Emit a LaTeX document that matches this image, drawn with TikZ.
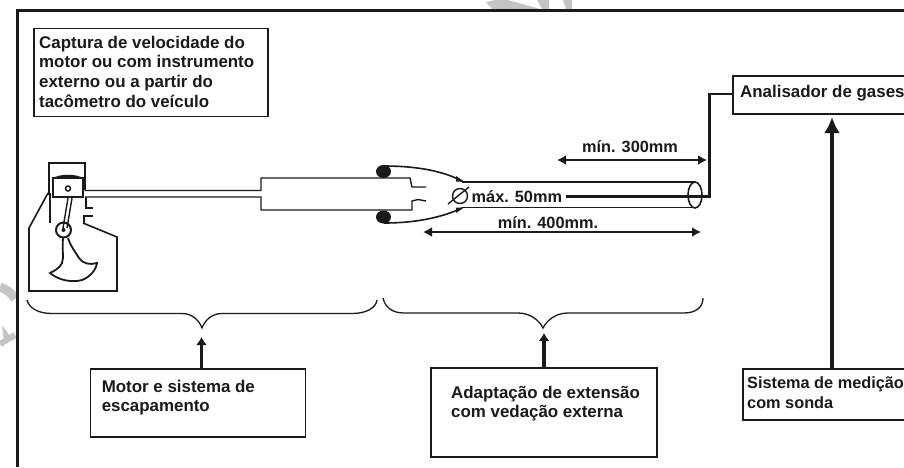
\documentclass[tikz,border=0pt]{standalone}
\usepackage{fontspec}
\setmainfont{Liberation Sans}
\usetikzlibrary{arrows.meta}
\definecolor{ink}{HTML}{1A1A1A}
\definecolor{wm}{HTML}{C4C4C4}
\tikzset{
  x=1pt,y=-1pt,
  lbl/.style={font=\fontsize{16.9}{19.8}\selectfont\bfseries,text=ink,align=left,anchor=north west,inner sep=0pt},
  lblsm/.style={font=\fontsize{16.3}{19.8}\selectfont\bfseries,text=ink,align=left,anchor=north west,inner sep=0pt},
  box/.style={draw=ink,line width=1.8pt,fill=white},
  thin/.style={draw=ink,line width=1.4pt},
  med/.style={draw=ink,line width=1.6pt},
  thick1/.style={draw=ink,line width=3pt},
  dim/.style={draw=ink,line width=2.2pt,{Latex[length=9pt,width=10pt]}-{Latex[length=9pt,width=10pt]}},
  up/.style={draw=ink,line width=3.6pt,-{Latex[length=8pt,width=11pt]}},
  upbig/.style={draw=ink,line width=4pt,-{Latex[length=16pt,width=16pt]}},
}
\begin{document}
\begin{tikzpicture}
\useasboundingbox (0,0) rectangle (904,467);
\fill[white] (0,0) rectangle (904,467);
% watermark remnants
\fill[wm] (486,2) -- (495,0) -- (508,0) -- (540,9) -- (492,9) -- cycle;
\fill[wm] (537,0) -- (549,0) -- (549,9) -- (542,9) -- cycle;
\fill[wm] (563,0) -- (572,0) -- (572,9) -- (566,9) -- cycle;
\draw[wm,line width=9pt] (0,287) .. controls (6,289) and (12,293) .. (15,299);
\draw[wm,line width=6pt] (0,344) -- (15,335);
\fill[wm] (2,325) -- (10,336) -- (4,341) -- cycle;
% frame
\draw[ink,line width=3pt] (904,10) -- (17,10) -- (17,467);
% boxes
\node[box,inner sep=0pt] (cap) at (151,72.5) {\rule{0pt}{88pt}\rule{234pt}{0pt}};
\node[lbl] at (39,35.6) {Captura de velocidade do\\motor ou com instrumento\\externo ou a partir do\\tacômetro do veículo};
\coordinate (anA) at (733,94);
\draw[box] (904,76) -- (733,76) -- (733,114) -- (904,114);
\node[lbl] at (740,84.6) {Analisador de gases};
\draw[box] (904,369) -- (743,369) -- (743,420) -- (904,420);
\node[lblsm] at (747,376.6) {Sistema de medição\\com sonda};
\node[box,inner sep=0pt] (mot) at (198,403) {\rule{0pt}{68pt}\rule{215pt}{0pt}};
\node[lbl] at (101.6,379.6) {Motor e sistema de\\escapamento};
\node[box,inner sep=0pt] (ada) at (544,412.5) {\rule{0pt}{89pt}\rule{226pt}{0pt}};
\node[lbl] at (451,385.6) {Adaptação de extensão\\com vedação externa};
% engine
\draw[thin] (49,195) -- (49,163) -- (85,163) -- (85,190);
\draw[thin] (50,223) -- (50,193);
\draw[ink,line width=2pt] (52.5,178) -- (83,178) -- (83,196.5) -- (52.5,196.5) -- cycle;
\fill[ink] (52,178.5) .. controls (60,173.5) and (76,173.5) .. (84,178.5) -- (85,190) -- (83,190) -- (83,178.5) -- cycle;
\draw[ink,line width=1.5pt] (68,188.5) circle (2.5);
\draw[thin] (68,198) -- (63,228);
\draw[thin] (72,198) -- (67,228);
\draw[ink,line width=2pt] (63.5,230) circle (7.5);
\fill[ink] (63.5,230) circle (2);
\draw[ink,line width=1.8pt] (63,238) .. controls (62,250) and (64,258) .. (62,263)
  .. controls (60,268) and (54,271) .. (50,273)
  .. controls (58,280) and (72,283) .. (82,280)
  .. controls (90,277) and (96,270) .. (97,263)
  .. controls (90,265) and (83,264) .. (79,258)
  .. controls (74,250) and (70,245) .. (68,238);
\draw[ink,line width=1.6pt] (48,193) -- (29,228) -- (29,291) -- (117,291) -- (117,237) -- (83,223);
\draw[thin] (86,197) -- (86,208) -- (93,208) (83,216) -- (93,216) (84,216) -- (84,223);
% exhaust
\draw[thin] (85,190.5) -- (261,190.5) -- (261,178) -- (410,178) -- (412,187) -- (426,187);
\draw[thin] (85,197) -- (261,197) -- (261,210) -- (412,210) -- (412,201) -- (418,199.5) -- (426,201);
% clamps
\fill[ink] (383.5,171.5) ellipse (7.5 and 6.5);
\fill[ink] (383.5,217) ellipse (7.5 and 6.5);
\draw[med] (384,166) .. controls (420,166) and (445,172) .. (462,181);
\draw[med] (384,223) .. controls (420,223) and (445,216) .. (462,208);
\fill[ink] (456,176) -- (464,181.5) -- (456,181.5) -- cycle;
\fill[ink] (456,213) -- (464,207.5) -- (456,207.5) -- cycle;
% probe tube
\draw[med] (462,182) -- (695,182);
\draw[med] (462,207.5) -- (695,207.5);
\draw[med] (695,195) ellipse (7 and 13);
% diameter mark
\draw[ink,line width=1.4pt] (460,196) circle (7.5);
\draw[ink,line width=1.4pt] (448,204) -- (469,187);
\node[lblsm,anchor=base west] (dia) at (471.5,202) {máx. 50mm};
% probe line
\coordinate (tip) at (566,196);
\draw[thick1] (tip) -- (709,196) -- (709,94);
\draw[ink,line width=2.2pt] (708,94) -- (anA);
% dimensions
\coordinate (d3a) at (557,160); \coordinate (d3b) at (707,160);
\draw[dim] (d3a) -- (d3b);
\node[lblsm,anchor=base] at (630,152) {mín. 300mm};
\coordinate (d4a) at (423,232); \coordinate (d4b) at (701,232);
\draw[dim] (d4a) -- (d4b);
\node[lblsm,anchor=base] at (548,228) {mín. 400mm.};
% braces
\draw[ink,line width=1.3pt] (27,300) .. controls (29,308) and (38,313.5) .. (52,313.5) -- (182,313.5) .. controls (192,313.5) and (199,320) .. (202,328) .. controls (205,320) and (212,313.5) .. (222,313.5) -- (352,313.5) .. controls (366,313.5) and (376,308) .. (377,300);
\draw[ink,line width=1.3pt] (383,298) .. controls (385,307) and (392,313) .. (404,313) -- (518,313) .. controls (530,313) and (539,320) .. (543,328) .. controls (547,320) and (556,313) .. (568,313) -- (684,313) .. controls (696,313) and (703,307) .. (703,298);
% arrows
\coordinate (a1) at (201.5,337); \coordinate (a2) at (544,333); \coordinate (a3) at (832,117);
\draw[up] (mot.north -| a1) -- (a1);
\draw[up] (ada.north -| a2) -- (a2);
\draw[upbig] (832,369) -- (a3);
\end{tikzpicture}
\end{document}
